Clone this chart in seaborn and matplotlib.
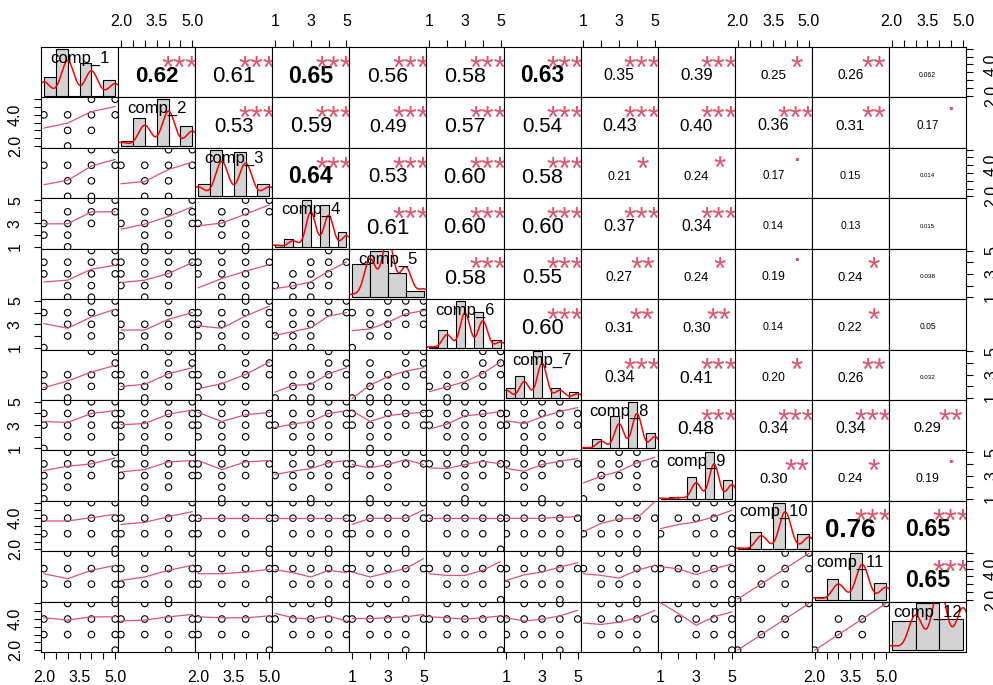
import numpy as np
import pandas as pd
import matplotlib
matplotlib.use("Agg")
import matplotlib.pyplot as plt
import seaborn as sns

sns.set_theme(style="white")
plt.rcParams["font.family"] = ["Liberation Sans", "DejaVu Sans"]

# ---------------------------------------------------------------- data
labels = [f"comp_{k}" for k in range(1, 13)]
lowest = [2, 2, 2, 1, 1, 1, 1, 1, 1, 2, 2, 2]
highest = [5, 5, 5, 5, 5, 5, 5, 5, 5, 5, 5, 5]

# respondents per score (from the lowest score up to 5)
counts_1 = [16, 41, 29, 14]
counts_2 = [5, 28, 47, 20]
counts_3 = [11, 40, 38, 11]
counts_4 = [2, 7, 41, 37, 13]
counts_5 = [2, 28, 42, 22, 6]
counts_6 = [1, 16, 43, 33, 7]
counts_7 = [11, 23, 49, 11, 6]
counts_8 = [1, 9, 31, 44, 15]
counts_9 = [1, 2, 24, 52, 21]
counts_10 = [2, 21, 58, 19]
counts_11 = [3, 24, 54, 19]
counts_12 = [3, 24, 44, 29]
bin_width = [0.5, 0.5, 0.5, 0.5, 1.0, 0.5, 0.5, 0.5, 0.5, 0.5, 0.5, 1.0]

# upper triangle: correlation of comp_i with comp_(i+1) ... comp_12
cor_row1 = [0.62, 0.61, 0.65, 0.56, 0.58, 0.63, 0.35, 0.39, 0.25, 0.26, 0.062]
cor_row2 = [0.53, 0.59, 0.49, 0.57, 0.54, 0.43, 0.40, 0.36, 0.31, 0.17]
cor_row3 = [0.64, 0.53, 0.60, 0.58, 0.21, 0.24, 0.17, 0.15, 0.014]
cor_row4 = [0.61, 0.60, 0.60, 0.37, 0.34, 0.14, 0.13, 0.015]
cor_row5 = [0.58, 0.55, 0.27, 0.24, 0.19, 0.24, 0.038]
cor_row6 = [0.60, 0.31, 0.30, 0.14, 0.22, 0.05]
cor_row7 = [0.34, 0.41, 0.20, 0.26, 0.032]
cor_row8 = [0.48, 0.34, 0.34, 0.29]
cor_row9 = [0.30, 0.24, 0.19]
cor_row10 = [0.76, 0.65]
cor_row11 = [0.65]

sig_row1 = ["***", "***", "***", "***", "***", "***", "***", "***", "*", "**", ""]
sig_row2 = ["***", "***", "***", "***", "***", "***", "***", "***", "**", "."]
sig_row3 = ["***", "***", "***", "***", "*", "*", ".", "", ""]
sig_row4 = ["***", "***", "***", "***", "***", "", "", ""]
sig_row5 = ["***", "***", "**", "*", ".", "*", ""]
sig_row6 = ["***", "**", "**", "", "*", ""]
sig_row7 = ["***", "***", "*", "**", ""]
sig_row8 = ["***", "***", "***", "**"]
sig_row9 = ["**", "*", "."]
sig_row10 = ["***", "***"]
sig_row11 = ["***"]

# lower triangle: occupied score combinations of comp_i (rows, 5 -> low)
# against comp_1 ... comp_(i-1) (columns, low -> 5)
grid_row2 = ["..XX/XXXX/.XX./.X.."]
grid_row3 = ["..XX/XXXX/.XX./.XX.", "..XX/XXXX/.XX./.XX."]
grid_row4 = ["..XX/.XXX/XXX./XX../.X..", "...X/.XXX/XXXX/.XX./.X..",
             "..XX/.XXX/XXX./.XX./..X."]
grid_row5 = ["..XX/XXXX/XXXX/.XX./.XX.", ".XXX/XXXX/XXX./XXX./.X..",
             ".XX./XXXX/XXX./.XX./.XX.", "...X./..XXX/.XXX./XXXX./.XX.."]
grid_row6 = ["..XX/XXXX/.XX./.XX./X...", "..X./..XX/XXXX/XXX./.X..",
             "..XX/XXXX/XXXX/XXX./.X..", "...XX/.XXXX/.XX../XXX../.XX..",
             "..XXX/XXXXX/.XXXX/.XX../X...."]
grid_row7 = ["..XX/...X/XXXX/XXX./.X..", "..XX/..XX/XXXX/XXX./.X..",
             "..X./..XX/XXXX/XXX./X...", "...X./...XX/.XXXX/.XXX./XXX..",
             "...XX/.X.XX/.XXXX/.XXX./XXX..", "...XX/...XX/.XXXX/XXXX./.X..."]
grid_row8 = [".XXX/XXXX/XXXX/.XX./X...", ".XXX/XXXX/XXXX/XXX./.X..",
             ".XX./XXXX/XXXX/XXX./.X..", "..XXX/.XXXX/XXXXX/.XXX./..X..",
             ".XXXX/XXXXX/XXXXX/.XX../.X...", ".XXX./XXXXX/XXXXX/.XXX./..X..",
             ".XXX./XXXXX/XXXXX/.XX../.X..."]
grid_row9 = [".XXX/XXXX/XXX./XX../X...", ".X.X/XXXX/XXXX/.XX./.X..",
             ".XX./XXXX/XXX./.X../.X..", ".XXX./.XXXX/XXXXX/.X.X./..X..",
             ".XXXX/XXXXX/.XX../..X../.X...", ".XXX./XXXXX/.XXX./..X../..X..",
             ".XXX./XXXXX/XXX../.X.../..X..", "..XX./.XXXX/.XXX./.X.X./X...."]
grid_row10 = [".XXX/XXXX/XXXX/...X", ".X.X/XXXX/XXXX/..X.", ".XXX/XXXX/XXX./...X",
              ".XXX./XXXXX/.XXXX/...X.", ".XXXX/XXXXX/XXXX./...X.",
              ".XXX./XXXXX/.XXX./....X", ".XXX./XXXXX/XXXX./...X.",
              "..XX./.XXXX/XXXX./...X.", "..XXX/.XXXX/X.XXX/....X"]
grid_row11 = [".XXX/XXXX/XXXX/...X", ".X.X/XXXX/XXXX/..X.", ".XXX/XXXX/XXX./...X",
              ".XXX./XXXXX/.XXXX/...X.", ".XXX./XXXXX/.XXX./...X.",
              ".XXX./XXXXX/.XXX./....X", ".XXX./XXXXX/XXXX./...X.",
              ".XXX./XXXXX/.XXX./...X.", "..XXX/XXXXX/..XXX/....X",
              "..XX/.XXX/.XX./X..."]
grid_row12 = [".XXX/XXXX/XXXX/...X", ".XX./XXXX/XXXX/..X.", ".XX./XXXX/XXX./...X",
              ".XXX./XXXXX/.XXXX/...X.", ".XX../XXXXX/.XXX./...X.",
              ".XXX./XXXXX/.XXX./....X", ".XXX./XXXXX/XXXX./...X.",
              ".XXX./.XXXX/.XXX./...X.", ".XXXX/.XXXX/..XXX/....X",
              "..XX/.XX./.XX./X...", "...X/.XX./.XX./X..."]

# lowess fit of comp_i at each score of the column variable
smooth_row2 = [[3.15, 3.47, 4.21, 4.53]]
smooth_row3 = [[2.75, 3.03, 3.95, 4.38], [2.81, 2.96, 3.73, 4.20]]
smooth_row4 = [[2.97, 2.97, 4.00, 4.00], [2.51, 2.94, 3.60, 4.43], [2.80, 3.03, 3.80, 4.60]]
smooth_row5 = [[2.31, 2.46, 3.40, 3.74], [2.26, 2.46, 3.03, 3.97], [1.80, 2.60, 3.23, 3.80],
               [1.74, 1.97, 2.31, 3.23, 4.03]]
smooth_row6 = [[3.06, 2.66, 3.63, 4.29], [2.51, 2.51, 3.43, 4.00], [2.86, 2.66, 3.71, 4.57],
               [2.06, 2.37, 2.71, 3.71, 4.00], [2.46, 2.60, 3.17, 3.89, 4.17]]
smooth_row7 = [[1.89, 2.46, 3.23, 3.80], [2.00, 2.17, 3.09, 3.60], [1.80, 2.23, 3.03, 4.09],
               [1.51, 2.09, 2.17, 3.09, 3.60], [0.97, 2.11, 2.83, 3.31, 3.60],
               [1.54, 1.97, 2.40, 3.11, 4.11]]
smooth_row8 = [[3.31, 3.23, 4.00, 4.23], [3.03, 3.14, 3.94, 4.29], [4.09, 3.31, 3.89, 4.09],
               [2.80, 3.09, 3.31, 4.00, 4.23], [4.23, 3.31, 3.80, 4.00, 4.09],
               [2.66, 3.09, 3.80, 3.94, 4.17], [3.37, 3.14, 3.71, 4.17, 4.51]]
smooth_row9 = [[3.43, 3.80, 4.00, 4.51], [3.31, 3.51, 4.17, 4.29], [4.29, 3.51, 4.17, 4.29],
               [3.09, 3.37, 3.60, 4.09, 4.29], [3.94, 3.66, 3.94, 4.37, 3.94],
               [3.66, 3.60, 3.94, 4.23, 4.00], [3.60, 3.37, 3.94, 4.23, 4.46],
               [2.37, 2.94, 3.37, 4.09, 4.57]]
smooth_row10 = [[3.82, 3.82, 4.03, 4.25], [3.60, 3.73, 4.10, 4.42], [3.99, 3.99, 3.99, 3.99],
                [3.99, 3.99, 3.99, 3.99, 3.99], [3.60, 3.99, 3.99, 3.99, 4.53],
                [3.99, 3.99, 3.99, 3.99, 3.99], [3.99, 3.99, 3.99, 4.05, 4.10],
                [3.13, 3.67, 3.95, 3.99, 5.06], [3.33, 3.59, 3.76, 4.09, 4.51]]
smooth_row11 = [[3.67, 3.35, 3.89, 4.21], [3.24, 3.46, 3.89, 4.21], [3.67, 3.67, 3.78, 3.95],
                [3.93, 3.74, 3.46, 3.89, 3.74], [3.78, 3.46, 3.74, 4.00, 4.64],
                [3.67, 3.56, 3.56, 3.89, 4.46], [3.24, 3.60, 3.78, 4.10, 4.38],
                [3.67, 3.56, 3.39, 3.89, 4.21], [4.13, 3.98, 3.62, 3.98, 4.30],
                [2.04, 3.02, 4.00, 4.98]]
smooth_row12 = [[4.08, 3.93, 4.14, 4.14], [3.87, 3.93, 4.14, 4.29], [4.14, 4.08, 4.08, 4.20],
                [4.36, 4.08, 3.99, 4.20, 3.87], [4.03, 4.03, 4.08, 4.14, 4.29],
                [4.14, 4.08, 3.99, 4.08, 4.20], [4.08, 3.87, 3.99, 4.20, 4.56],
                [3.74, 3.65, 3.80, 4.08, 4.55], [5.05, 4.35, 3.60, 4.14, 4.46],
                [2.00, 3.00, 4.00, 5.00], [2.00, 3.00, 4.00, 5.00]]

counts = [counts_1, counts_2, counts_3, counts_4, counts_5, counts_6,
          counts_7, counts_8, counts_9, counts_10, counts_11, counts_12]
cors = [cor_row1, cor_row2, cor_row3, cor_row4, cor_row5, cor_row6,
        cor_row7, cor_row8, cor_row9, cor_row10, cor_row11]
sigs = [sig_row1, sig_row2, sig_row3, sig_row4, sig_row5, sig_row6,
        sig_row7, sig_row8, sig_row9, sig_row10, sig_row11]
grids = [None, grid_row2, grid_row3, grid_row4, grid_row5, grid_row6, grid_row7,
         grid_row8, grid_row9, grid_row10, grid_row11, grid_row12]
smooths = [None, smooth_row2, smooth_row3, smooth_row4, smooth_row5, smooth_row6,
           smooth_row7, smooth_row8, smooth_row9, smooth_row10, smooth_row11, smooth_row12]

# ---------------------------------------------------------------- style
RED_SMOOTH = "#DF536B"
STAR_COL = "#DF536B"
N = len(labels)
W_PX, H_PX = 993, 685
LEFT, RIGHT, TOP, BOTTOM = 41, 966, 47, 652
CELL_W = (RIGHT - LEFT) / N
CELL_H = (BOTTOM - TOP) / N
PT2PX = 100 / 72


def levels(k):
    return np.arange(lowest[k], highest[k] + 1)


def limits(k):
    a, b = lowest[k], highest[k]
    pad = 0.04 * (b - a)
    return a - pad, b + pad


def fmt(r):
    return f"{r:.2f}" if abs(r) >= 0.1 else f"{r:.2g}"


def nrd0(xs):
    # Silverman's rule of thumb, falling back to the sd when the IQR is zero
    hi = xs.std(ddof=1)
    q1, q3 = np.percentile(xs, [25, 75])
    lo = min(hi, (q3 - q1) / 1.34)
    if lo <= 0:
        lo = hi if hi > 0 else 1.0
    return 0.9 * lo * len(xs) ** -0.2


fig = plt.figure(figsize=(W_PX / 100, H_PX / 100), dpi=100)
gs = fig.add_gridspec(N, N, left=LEFT / W_PX, right=RIGHT / W_PX,
                      bottom=1 - BOTTOM / H_PX, top=1 - TOP / H_PX,
                      wspace=0, hspace=0)
renderer = fig.canvas.get_renderer()
axes = [[fig.add_subplot(gs[i, j]) for j in range(N)] for i in range(N)]

for i in range(N):
    for j in range(N):
        ax = axes[i][j]
        ax.set_xticks([])
        ax.set_yticks([])
        for sp in ax.spines.values():
            sp.set_color("black")
            sp.set_linewidth(0.8)
        ax.set_facecolor("white")

        if i == j:
            # histogram + kernel density on the diagonal
            vals = levels(j)
            cnt = np.array(counts[j])
            w = bin_width[j]
            lo = lowest[j]
            idx = np.maximum(np.ceil((vals - lo) / w) - 1, 0)
            centers = lo + (idx + 0.5) * w
            hist_df = pd.DataFrame({"score": centers, "n": cnt})
            sns.histplot(data=hist_df, x="score", weights="n", binwidth=w,
                         binrange=(lo, highest[j]), stat="density",
                         color="#D3D3D3", edgecolor="black",
                         linewidth=0.8, alpha=1, ax=ax)
            n = cnt.sum()
            nbins = int(round((highest[j] - lo) / w))
            binned = np.bincount(idx.astype(int), weights=cnt, minlength=nbins)
            dmax = (binned / (n * w)).max()
            xs = np.repeat(vals, cnt).astype(float)
            bw = nrd0(xs)
            g = np.linspace(xs.min() - 3 * bw, xs.max() + 3 * bw, 512)
            dens = np.exp(-0.5 * ((g[:, None] - xs[None, :]) / bw) ** 2).sum(1)
            dens /= len(xs) * bw * np.sqrt(2 * np.pi)
            ax.plot(g, dens, color="red", lw=1.1)
            ax.set_xlim(*limits(j))
            ax.set_ylim(-0.04 * dmax, 1.04 * dmax)
            ax.set_xlabel("")
            ax.set_ylabel("")
            ax.set_xticks([])
            ax.set_yticks([])
            ax.text(0.5, 0.78, labels[j], transform=ax.transAxes, ha="center",
                    va="center", fontsize=12, color="black", zorder=5)
        elif i > j:
            # scatter of occupied score pairs with lowess line
            xv = levels(j)
            yv = levels(i)[::-1]
            rows = grids[i][j].split("/")
            px, py = [], []
            for yi, row in enumerate(rows):
                for xi, ch in enumerate(row):
                    if ch == "X":
                        px.append(xv[xi])
                        py.append(yv[yi])
            pts = pd.DataFrame({"x": px, "y": py})
            sns.scatterplot(data=pts, x="x", y="y", ax=ax, marker="o", s=22,
                            facecolors="none", edgecolors="black",
                            linewidth=0.8, legend=False, zorder=3)
            line = pd.DataFrame({"x": xv, "y": smooths[i][j]})
            sns.lineplot(data=line, x="x", y="y", ax=ax, color=RED_SMOOTH,
                         lw=0.9, sort=False, estimator=None, zorder=4)
            ax.set_xlim(*limits(j))
            ax.set_ylim(*limits(i))
            ax.set_xlabel("")
            ax.set_ylabel("")
            ax.set_xticks([])
            ax.set_yticks([])
        else:
            # correlation text with significance stars
            ax.set_xlim(*limits(j))
            ax.set_ylim(*limits(i))
            r = cors[i][j - i - 1]
            s = sigs[i][j - i - 1]
            txt = fmt(r)
            probe = ax.text(0.5, 0.5, txt, transform=ax.transAxes, fontsize=10)
            w10 = probe.get_window_extent(renderer).width
            probe.remove()
            fs_star = 10 * 0.8 * CELL_W / w10
            fs_num = fs_star * (abs(r) + 0.3) / 1.3
            y_num = 0.46 - 0.36 * fs_num * PT2PX / CELL_H
            ax.text(0.5, y_num, txt, transform=ax.transAxes, ha="center",
                    va="baseline", fontsize=fs_num, color="black",
                    fontweight="bold" if abs(r) >= 0.62 else "normal")
            if s:
                off = 0.05 if s == "." else 0.575
                yc = 0.78 if s == "." else 0.755
                y_s = yc - off * fs_star * PT2PX / CELL_H
                ax.text(0.8, y_s, s, transform=ax.transAxes, ha="center",
                        va="baseline", fontsize=fs_star, color=STAR_COL,
                        clip_on=True)

# ---------------------------------------------------------------- outer axes
tick_kw = dict(direction="out", length=5, width=0.8, color="black",
               labelsize=11.5, labelcolor="black", pad=8)


def tick_spec(k, horizontal):
    if lowest[k] == 2:
        t = [2.0, 2.5, 3.0, 3.5, 4.0, 4.5, 5.0]
        lab = ["2.0", "", "", "3.5", "", "", "5.0"] if horizontal else \
              ["2.0", "", "", "", "4.0", "", ""]
    else:
        t = [1, 2, 3, 4, 5]
        lab = ["1", "", "3", "", "5"]
    return t, lab


for j in range(N):
    if j % 2 == 1:
        ax = axes[0][j]
        t, lab = tick_spec(j, True)
        ax.set_xticks(t, lab)
        ax.tick_params(axis="x", top=True, labeltop=True, bottom=False,
                       labelbottom=False, **tick_kw)
    else:
        ax = axes[N - 1][j]
        t, lab = tick_spec(j, True)
        ax.set_xticks(t, lab)
        ax.tick_params(axis="x", bottom=True, labelbottom=True, top=False,
                       labeltop=False, **tick_kw)
for i in range(N):
    if i % 2 == 1:
        ax = axes[i][0]
        t, lab = tick_spec(i, False)
        ax.set_yticks(t, lab)
        ax.tick_params(axis="y", left=True, labelleft=True, right=False,
                       labelright=False, labelrotation=90, **tick_kw)
        for tl in ax.get_yticklabels():
            tl.set_va("center")
    else:
        ax = axes[i][N - 1]
        t, lab = tick_spec(i, False)
        ax.set_yticks(t, lab)
        ax.tick_params(axis="y", right=True, labelright=True, left=False,
                       labelleft=False, labelrotation=90, **tick_kw)
        for tl in ax.get_yticklabels():
            tl.set_va("center")

fig.savefig("out.png", dpi=100, facecolor="white")
